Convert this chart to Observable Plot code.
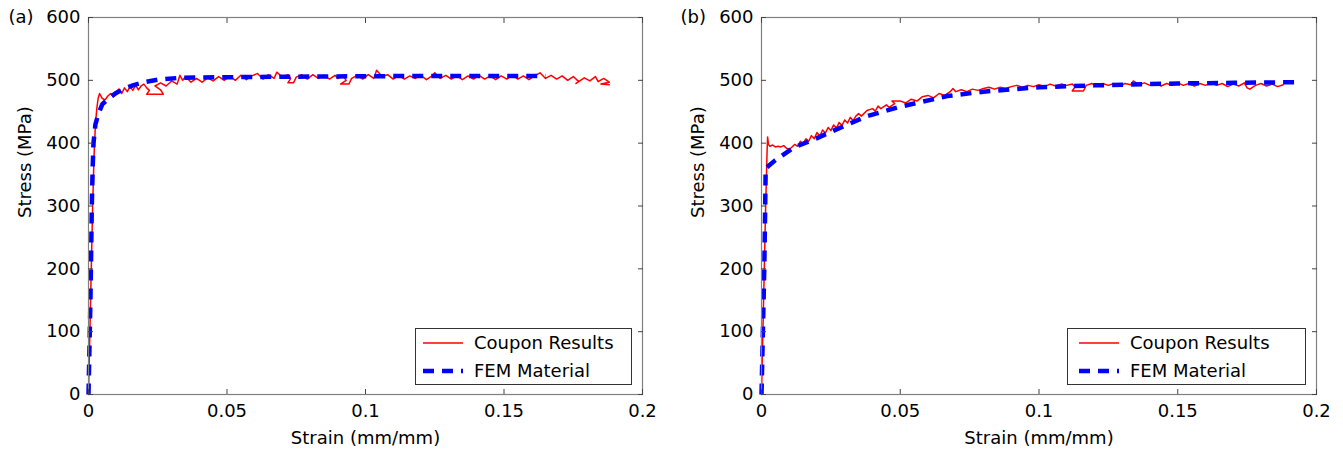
<!DOCTYPE html>
<html><head><meta charset="utf-8">
<script src="https://cdn.jsdelivr.net/npm/d3@7"></script>
<script src="https://cdn.jsdelivr.net/npm/@observablehq/plot@0.6"></script>
<style>
body{margin:0;background:#fff;}
#wrap{position:relative;width:1343px;height:456px;display:flex;overflow:hidden;}
#wrap svg{display:block;}
.legend{position:absolute;}
</style></head><body><div id="wrap"></div>
<script>
const xTicks = [0, 0.05, 0.1, 0.15, 0.2];
const yTicks = [0, 100, 200, 300, 400, 500, 600];
const seriesNames = ["Coupon Results", "FEM Material"];
const panelTags = ["(a)", "(b)"];
const xLabel = "Strain (mm/mm)";
const yLabel = "Stress (MPa)";

// Panel (a) coupon test trace (strain, stress)
const couponA = [[0,0],[0.0005,100],[0.001,200],[0.0015,300],[0.002,380],[0.0025,430],[0.003,455],[0.0035,472],[0.004,479],[0.0045,475],[0.005,471],[0.006,469],[0.007,475],[0.008,479],[0.009,474],[0.010,482],[0.011,486],[0.012,479],[0.013,488],[0.014,482],[0.015,490],[0.016,484],[0.017,492],[0.018,485],[0.019,491],[0.02,494],[0.021,488],[0.022,484],[0.021,478],[0.027,478],[0.026,485],[0.024,491],[0.026,496],[0.028,491],[0.03,499],[0.032,494],[0.033,508],[0.034,500],[0.035,506],[0.037,497],[0.039,503],[0.041,497],[0.043,504],[0.045,499],[0.047,506],[0.049,500],[0.051,507],[0.053,500],[0.055,508],[0.057,501],[0.059,507],[0.061,511],[0.063,502],[0.065,509],[0.067,503],[0.068,513],[0.07,505],[0.072,509],[0.073,503],[0.072,496],[0.074,496],[0.075,505],[0.077,509],[0.079,502],[0.081,509],[0.083,503],[0.085,508],[0.087,502],[0.089,508],[0.09,503],[0.092,507],[0.093,500],[0.091,494],[0.094,494],[0.095,503],[0.097,508],[0.099,502],[0.101,509],[0.103,503],[0.104,516],[0.106,506],[0.108,509],[0.11,502],[0.112,508],[0.114,502],[0.116,507],[0.118,503],[0.12,508],[0.122,501],[0.124,507],[0.125,512],[0.127,503],[0.129,508],[0.131,502],[0.133,507],[0.135,501],[0.137,507],[0.139,502],[0.141,508],[0.143,502],[0.145,507],[0.147,501],[0.149,507],[0.151,502],[0.153,508],[0.155,502],[0.157,507],[0.159,501],[0.161,507],[0.163,512],[0.165,503],[0.167,508],[0.169,502],[0.171,507],[0.173,500],[0.175,506],[0.177,498],[0.176,495],[0.179,504],[0.181,499],[0.183,506],[0.184,498],[0.186,503],[0.188,497],[0.185,494],[0.188,493]];
// Panel (a) FEM material curve
const femA = [[0,0],[0.0007,150],[0.0012,300],[0.0015,360],[0.0018,400],[0.0025,430],[0.0036,447],[0.005,462],[0.0072,471],[0.01,480],[0.0126,486],[0.016,492],[0.02,497],[0.025,501],[0.033,504],[0.05,505],[0.08,506],[0.12,507],[0.165,507]];

// Panel (b) coupon test trace
const couponB = [[0,0],[0.0005,100],[0.001,200],[0.0015,300],[0.002,385],[0.0022,410],[0.0025,398],[0.003,395],[0.004,397],[0.005,394],[0.006,395],[0.007,394],[0.008,396],[0.009,392],[0.01,390],[0.011,394],[0.012,398],[0.013,395],[0.014,403],[0.015,399],[0.016,407],[0.017,403],[0.018,412],[0.019,407],[0.02,417],[0.021,411],[0.022,421],[0.023,416],[0.024,425],[0.025,420],[0.026,429],[0.027,424],[0.028,433],[0.029,428],[0.03,437],[0.031,432],[0.032,441],[0.033,436],[0.034,443],[0.035,447],[0.036,443],[0.038,452],[0.04,455],[0.041,451],[0.042,459],[0.043,455],[0.045,461],[0.046,457],[0.048,463],[0.047,467],[0.05,467],[0.052,464],[0.054,470],[0.056,467],[0.058,474],[0.06,476],[0.062,472],[0.064,479],[0.066,476],[0.068,482],[0.069,487],[0.07,482],[0.072,485],[0.074,482],[0.076,486],[0.078,484],[0.08,487],[0.082,489],[0.084,486],[0.086,489],[0.088,487],[0.09,490],[0.092,492],[0.094,489],[0.096,492],[0.098,490],[0.1,493],[0.102,490],[0.104,494],[0.106,491],[0.108,494],[0.11,492],[0.112,494],[0.113,490],[0.112,483],[0.116,483],[0.117,492],[0.119,495],[0.121,491],[0.123,495],[0.125,492],[0.127,495],[0.129,491],[0.131,495],[0.133,493],[0.134,499],[0.136,493],[0.138,496],[0.14,492],[0.142,495],[0.144,491],[0.146,495],[0.148,492],[0.15,496],[0.152,492],[0.154,495],[0.156,491],[0.158,495],[0.16,492],[0.162,496],[0.164,492],[0.166,495],[0.168,490],[0.17,494],[0.172,491],[0.174,496],[0.175,488],[0.176,486],[0.178,492],[0.18,495],[0.182,491],[0.184,494],[0.186,490],[0.188,493]];
// Panel (b) FEM material curve
const femB = [[0,0],[0.0005,100],[0.001,200],[0.0013,290],[0.0015,360],[0.005,373],[0.0116,393],[0.02,408],[0.026,420],[0.038,443],[0.05,458],[0.067,475],[0.08,482],[0.1,489],[0.12,492],[0.15,495],[0.17,496],[0.193,497]];

const FONT = '"DejaVu Sans", sans-serif';
const RED = "#ff0000", BLUE = "#0000ff", DASH = "11,8";

function panel({coupon, fem, width, marginLeft, marginRight, tag, tagDx}) {
  const tickStroke = "#444";
  return Plot.plot({
    width, height: 456, marginLeft, marginRight, marginTop: 17, marginBottom: 62,
    style: {fontFamily: FONT, fontSize: "18px", color: "#000", background: "#fff", overflow: "visible"},
    x: {domain: [0, 0.2]},
    y: {domain: [0, 600]},
    marks: [
      Plot.line(coupon, {x: d => d[0], y: d => d[1], stroke: RED, strokeWidth: 1.5}),
      Plot.line(fem, {x: d => d[0], y: d => d[1], stroke: BLUE, strokeWidth: 4.5, strokeDasharray: DASH, strokeLinecap: "butt", strokeLinejoin: "miter"}),
      Plot.frame({stroke: "#808080", strokeWidth: 1.2}),
      Plot.axisX(xTicks, {anchor: "bottom", tickSize: 5, dy: -5, text: null, stroke: tickStroke}),
      Plot.axisX(xTicks, {anchor: "top", tickSize: 5, dy: 5, text: null, stroke: tickStroke}),
      Plot.axisY(yTicks, {anchor: "left", tickSize: 5, dx: 5, text: null, stroke: tickStroke}),
      Plot.axisY(yTicks, {anchor: "right", tickSize: 5, dx: -5, text: null, stroke: tickStroke}),
      Plot.axisX(xTicks, {anchor: "bottom", tickSize: 0, tickPadding: 10, tickFormat: d => String(d), label: null, fontSize: 18, fill: "#000"}),
      Plot.axisY(yTicks, {anchor: "left", tickSize: 0, tickPadding: 8, tickFormat: d => String(d), label: null, fontSize: 18, fill: "#000"}),
      Plot.text([xLabel], {text: d => d, frameAnchor: "bottom", dy: 44, lineAnchor: "middle", fontSize: 18, fill: "#000"}),
      Plot.text([yLabel], {text: d => d, frameAnchor: "left", dx: -63, dy: 12, rotate: -90, fontSize: 18, fill: "#000"}),
      Plot.text([tag], {text: d => d, frameAnchor: "top-left", dx: tagDx, textAnchor: "start", lineAnchor: "middle", fontSize: 18, fill: "#000"})
    ]
  });
}

const wrap = document.getElementById("wrap");
wrap.appendChild(panel({coupon: couponA, fem: femA, width: 672, marginLeft: 88, marginRight: 30, tag: panelTags[0], tagDx: -80}));
wrap.appendChild(panel({coupon: couponB, fem: femB, width: 671, marginLeft: 89, marginRight: 27, tag: panelTags[1], tagDx: -81}));

// Legends (drawn as SVG boxes over each panel)
function legend(left, top, w, h, lineX0, textX) {
  const svg = d3.create("svg").attr("class", "legend").attr("width", w + 2).attr("height", h + 2)
    .style("left", (left - 1) + "px").style("top", (top - 1) + "px");
  svg.append("rect").attr("x", 1.5).attr("y", 1.5).attr("width", w - 1).attr("height", h - 1)
    .attr("fill", "#fff").attr("stroke", "#333").attr("stroke-width", 1);
  const rows = [{y: 16, stroke: RED, sw: 1.3, dash: null}, {y: 44, stroke: BLUE, sw: 4.5, dash: DASH}];
  rows.forEach((r, i) => {
    svg.append("line").attr("x1", lineX0).attr("x2", lineX0 + 40).attr("y1", r.y).attr("y2", r.y)
      .attr("stroke", r.stroke).attr("stroke-width", r.sw).attr("stroke-dasharray", r.dash);
    svg.append("text").attr("x", textX).attr("y", r.y).attr("dy", "0.35em")
      .attr("font-family", FONT).attr("font-size", 18).attr("fill", "#000").text(seriesNames[i]);
  });
  wrap.appendChild(svg.node());
}
legend(415, 328, 217, 57, 9, 60);
legend(1067, 328, 239, 57, 13, 64);
</script>
</body></html>
